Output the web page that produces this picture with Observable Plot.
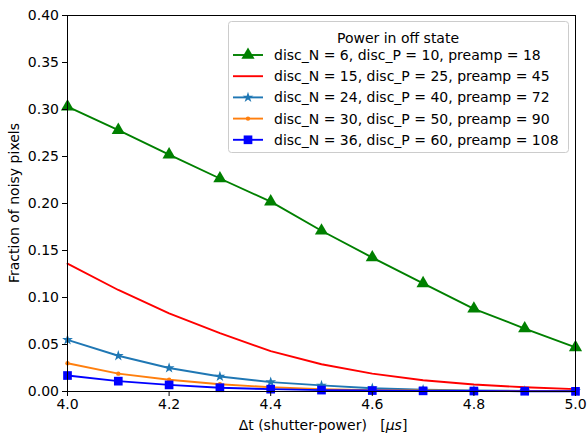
<!DOCTYPE html>
<html><head><meta charset="utf-8">
<script src="https://cdn.jsdelivr.net/npm/d3@7"></script>
<script src="https://cdn.jsdelivr.net/npm/@observablehq/plot@0.6"></script>
<style>body{margin:0;background:#fff;font-family:"DejaVu Sans",sans-serif;overflow:hidden;}</style>
</head><body><div id="chart"></div>
<script>
const dt = [4.0, 4.1, 4.2, 4.3, 4.4, 4.5, 4.6, 4.7, 4.8, 4.9, 5.0];
const seriesNames = [
  "disc_N = 6, disc_P = 10, preamp = 18",
  "disc_N = 15, disc_P = 25, preamp = 45",
  "disc_N = 24, disc_P = 40, preamp = 72",
  "disc_N = 30, disc_P = 50, preamp = 90",
  "disc_N = 36, disc_P = 60, preamp = 108"
];
const s6  = [0.303, 0.278, 0.252, 0.2266, 0.202, 0.171, 0.1425, 0.115, 0.088, 0.067, 0.047];
const s15 = [0.136, 0.108, 0.083, 0.062, 0.043, 0.029, 0.019, 0.012, 0.0075, 0.0045, 0.0025];
const s24 = [0.055, 0.038, 0.025, 0.016, 0.010, 0.0065, 0.0035, 0.002, 0.001, 0.0007, 0.0005];
const s30 = [0.030, 0.019, 0.0125, 0.0077, 0.0045, 0.0025, 0.0015, 0.001, 0.0007, 0.0005, 0.0004];
const s36 = [0.017, 0.011, 0.007, 0.004, 0.0025, 0.0015, 0.001, 0.0007, 0.0005, 0.0003, 0.0002];
const xTicks = [4.0, 4.2, 4.4, 4.6, 4.8, 5.0];
const yTicks = [0, 0.05, 0.10, 0.15, 0.20, 0.25, 0.30, 0.35, 0.40];

const styles = [
  {color: "#008000", symbol: "triangle", r: 4.9},
  {color: "#ff0000", symbol: null, r: 0},
  {color: "#1f77b4", symbol: "star", r: 3.4},
  {color: "#ff7f0e", symbol: "circle", r: 2.2},
  {color: "#0000ff", symbol: "square", r: 4.9}
];
const allValues = [s6, s15, s24, s30, s36];
const data = [];
allValues.forEach((vals, i) => vals.forEach((v, j) => data.push({x: dt[j], y: v, s: i})));

const marks = [];
allValues.forEach((vals, i) => {
  const d = data.filter(p => p.s === i);
  marks.push(Plot.line(d, {x: "x", y: "y", stroke: styles[i].color, strokeWidth: 1.9}));
  if (styles[i].symbol) marks.push(Plot.dot(d, {x: "x", y: "y", fill: styles[i].color, stroke: "none", symbol: () => styles[i].symbol, r: styles[i].r}));
});

const FS = "14px";
const FF = "'DejaVu Sans', sans-serif";
const W = 588, H = 435;
const chart = Plot.plot({
  width: W, height: H,
  marginLeft: 67, marginRight: 13, marginTop: 15, marginBottom: 44,
  style: {fontFamily: FF, fontSize: FS, color: "#000", background: "#fff"},
  x: {domain: [4, 5]},
  y: {domain: [0, 0.4]},
  symbol: {type: "identity"},
  marks: [
    ...marks,
    Plot.frame({stroke: "#000", strokeWidth: 1}),
    Plot.axisX({ticks: xTicks, tickFormat: d => d.toFixed(1), tickSize: 5, tickPadding: 3, label: null, stroke: "#000"}),
    Plot.axisY({ticks: yTicks, tickFormat: d => d.toFixed(2), tickSize: 5, tickPadding: 3.5, label: null, stroke: "#000"})
  ]
});
document.getElementById("chart").appendChild(chart);

const svg = d3.select(chart);
svg.selectAll("text").style("font-size", FS).style("font-family", FF).attr("fill", "#000");

// axis labels
const xl = svg.append("text").attr("x", 323).attr("y", 430).attr("text-anchor", "middle")
  .style("font-size", FS).style("font-family", FF).attr("fill", "#000");
xl.append("tspan").text("\u0394t (shutter-power)   [");
xl.append("tspan").style("font-style", "italic").text("\u03bcs");
xl.append("tspan").text("]");
svg.append("text").attr("transform", "translate(19,203) rotate(-90)").attr("text-anchor", "middle")
  .style("font-size", FS).style("font-family", FF).attr("fill", "#000")
  .text("Fraction of noisy pixels");

// legend
const lg = svg.append("g").attr("text-anchor", "start");
lg.append("rect").attr("x", 228.5).attr("y", 21.5).attr("width", 340).attr("height", 131)
  .attr("rx", 3).attr("fill", "#fff").attr("fill-opacity", 0.8).attr("stroke", "#cccccc");
lg.append("text").attr("x", 398).attr("y", 38).attr("dy", "0.36em").attr("text-anchor", "middle")
  .style("font-size", FS).style("font-family", FF).attr("fill", "#000").text("Power in off state");
const symMap = {triangle: d3.symbolTriangle, star: d3.symbolStar, circle: d3.symbolCircle, square: d3.symbolSquare};
seriesNames.forEach((name, i) => {
  const cy = 55 + i * 21.2;
  lg.append("line").attr("x1", 233).attr("x2", 263).attr("y1", cy).attr("y2", cy)
    .attr("stroke", styles[i].color).attr("stroke-width", 1.9);
  if (styles[i].symbol) {
    lg.append("path").attr("transform", `translate(248,${cy})`)
      .attr("d", d3.symbol(symMap[styles[i].symbol], Math.PI * styles[i].r * styles[i].r)())
      .attr("fill", styles[i].color);
  }
  lg.append("text").attr("x", 274).attr("y", cy).attr("dy", "0.36em").attr("text-anchor", "start")
    .style("font-size", FS).style("font-family", FF).attr("fill", "#000").text(name);
});
</script></body></html>
